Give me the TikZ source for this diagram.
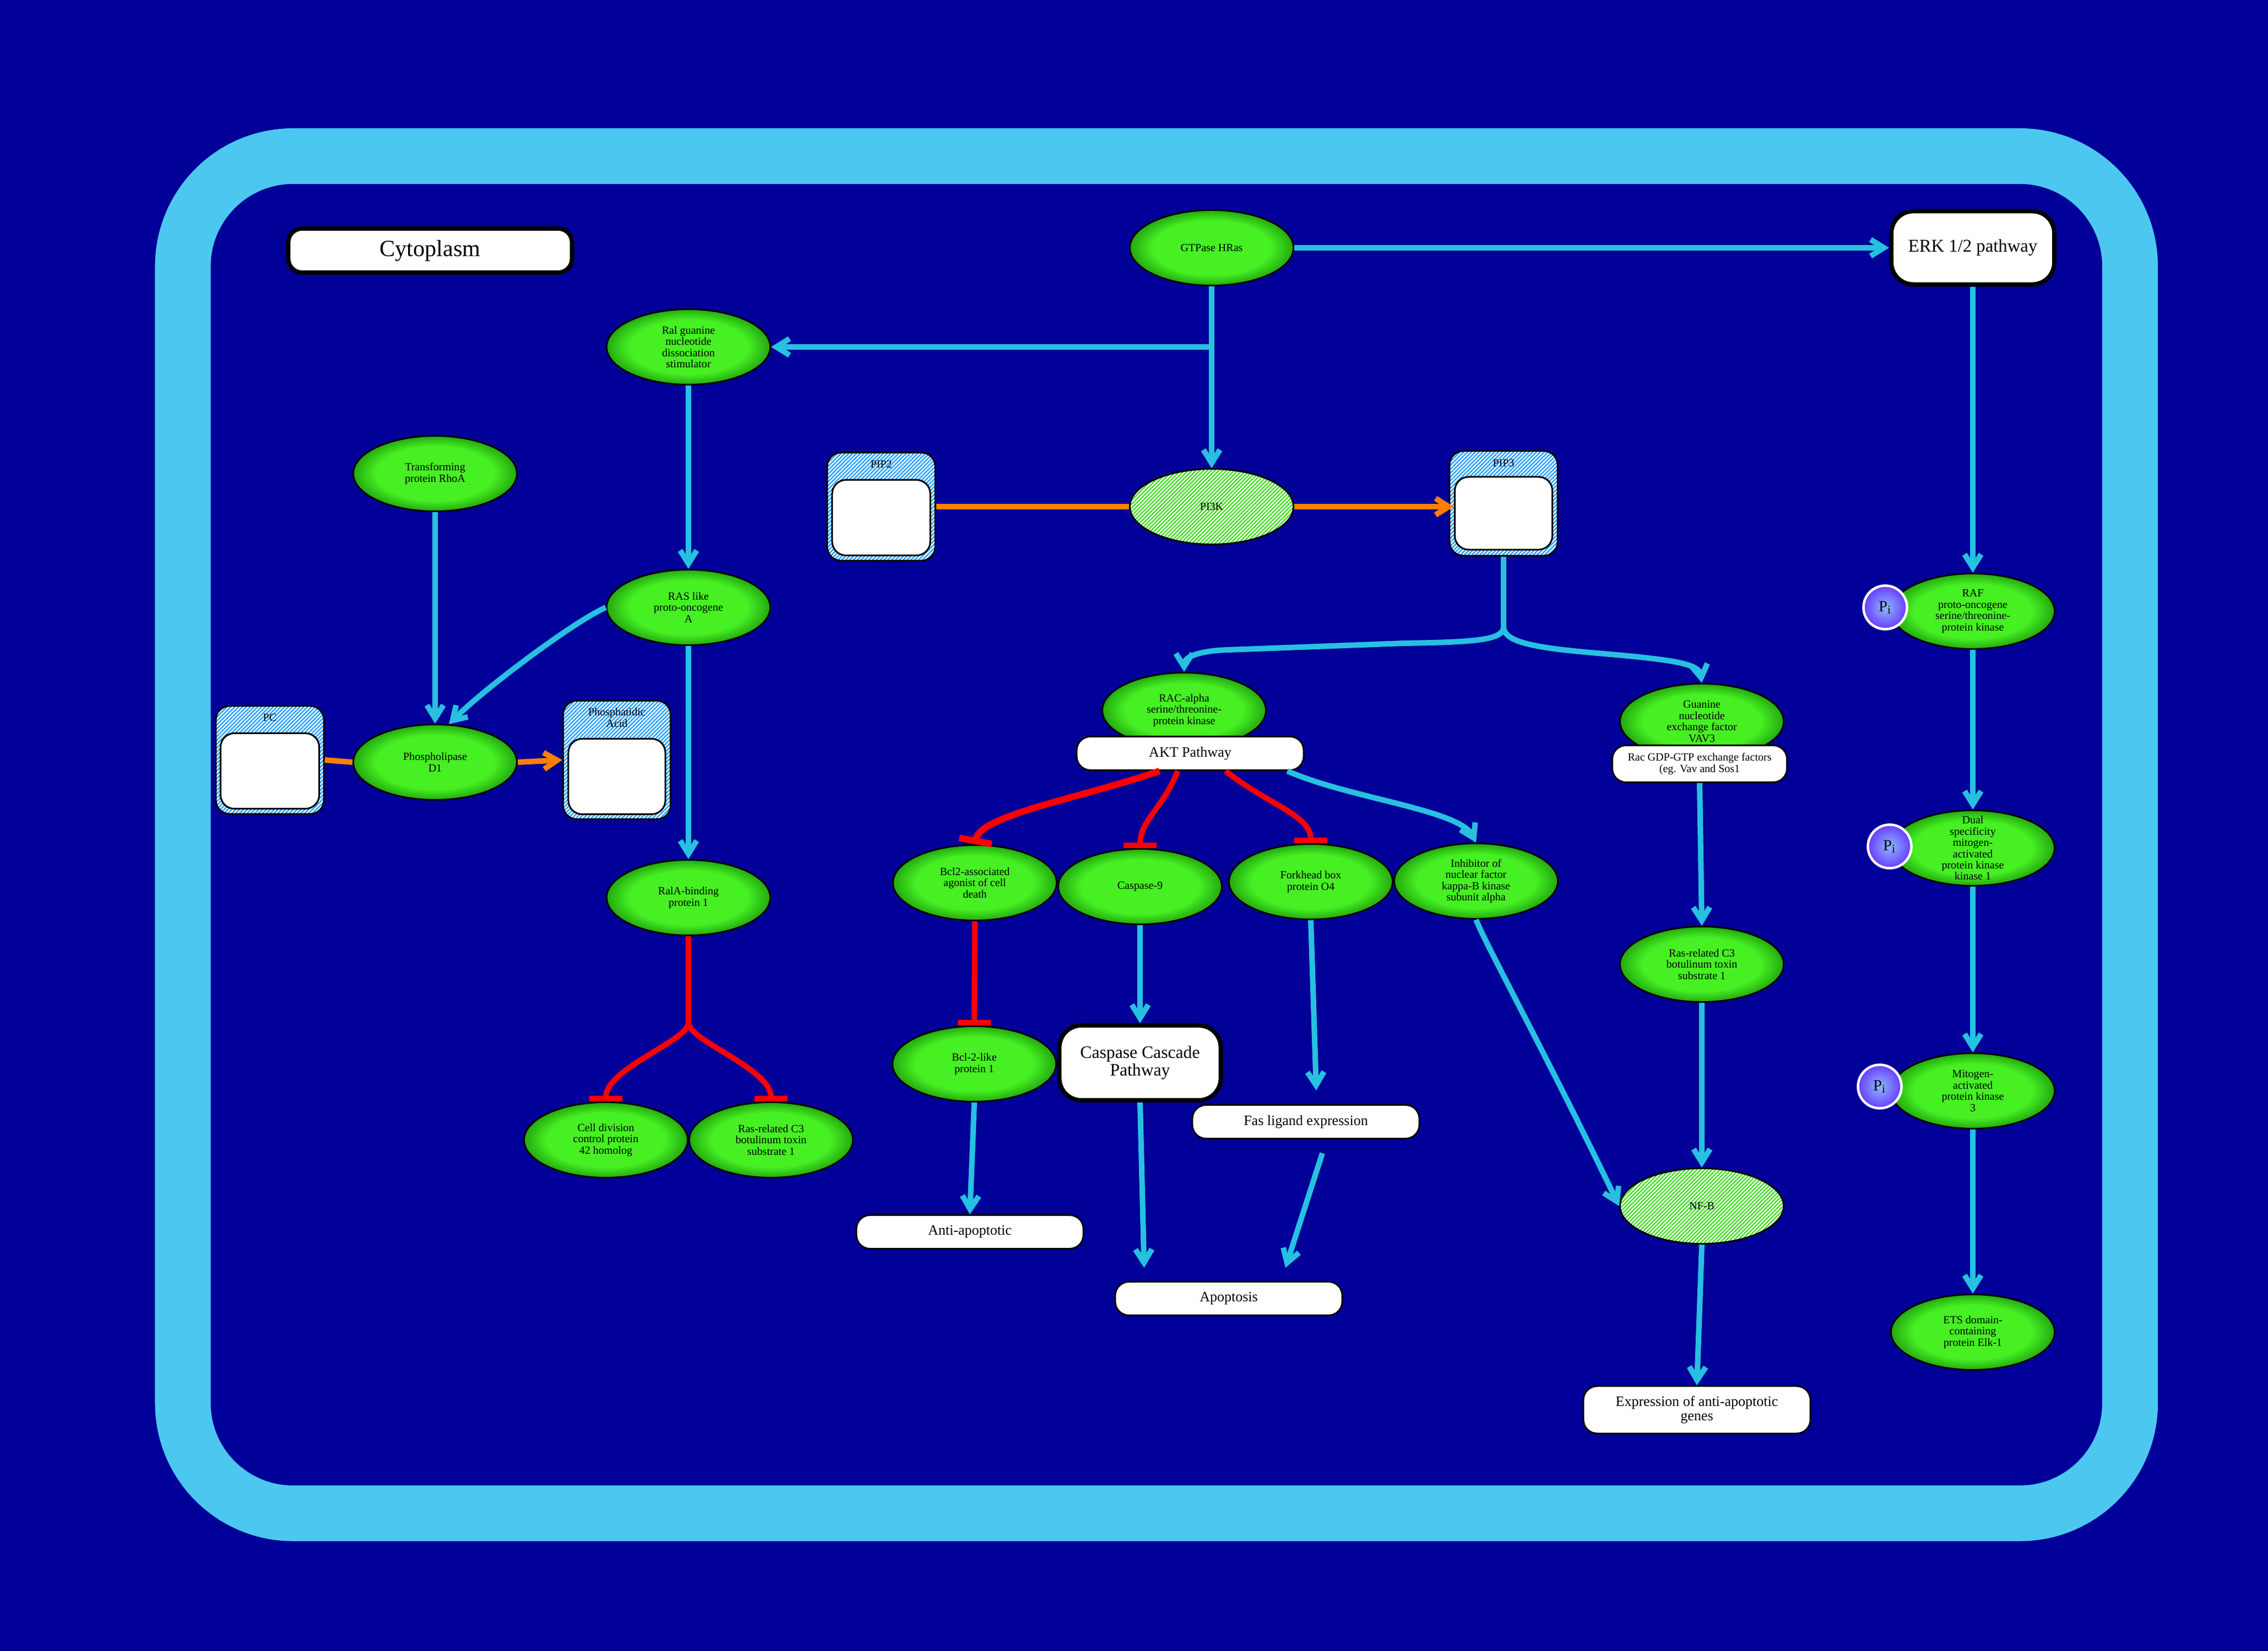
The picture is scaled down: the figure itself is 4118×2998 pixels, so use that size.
\documentclass[tikz,border=0pt]{standalone}
\usepackage{fontspec}
\setmainfont{Liberation Serif}
\usetikzlibrary{shapes.geometric,arrows.meta,patterns.meta,calc}

\definecolor{bgnavy}{RGB}{0,0,153}
\definecolor{framec}{RGB}{76,200,240}
\definecolor{cyanl}{RGB}{40,192,224}
\definecolor{orangel}{RGB}{255,128,0}
\definecolor{gin}{RGB}{70,240,35}
\definecolor{gout}{RGB}{36,168,16}
\definecolor{piin}{RGB}{140,185,255}
\definecolor{piout}{RGB}{105,60,255}
\definecolor{hatchg}{RGB}{70,220,40}
\definecolor{hatchb}{RGB}{40,160,255}

\pgfdeclareradialshading{greenball}{\pgfpoint{0bp}{0bp}}{color(0bp)=(gin); color(18bp)=(gin); color(25bp)=(gout); color(50bp)=(gout)}
\pgfdeclareradialshading{piball}{\pgfpoint{0bp}{0bp}}{color(0bp)=(piin); color(25bp)=(piout); color(50bp)=(piout)}

\newcommand{\protnode}[3]{\node[gnode] (#1) at (#2) {}; \node[gtext] at (#1.center) {#3};}
\newcommand{\hatchnode}[3]{\node[hnode] (#1) at (#2) {}; \node[gtext] at (#1.center) {#3};}

\begin{document}
\begin{tikzpicture}[x=0.01cm,y=-0.01cm,
  gnode/.style={ellipse, draw=black, line width=0.03cm, shading=greenball, minimum width=2.97cm, minimum height=1.37cm, inner sep=0pt},
  hnode/.style={ellipse, draw=black, line width=0.03cm, preaction={fill=white}, pattern={Lines[angle=45,distance=1.4pt,line width=0.7pt]}, pattern color=hatchg, minimum width=2.97cm, minimum height=1.37cm, inner sep=0pt},
  gtext/.style={align=center, font=\fontsize{5.7}{5.8}\selectfont, inner sep=0pt},
  pibox/.style={circle, draw=white, line width=0.045cm, shading=piball, minimum size=0.79cm, inner sep=0pt, font=\fontsize{8}{8}\selectfont},
  lbl/.style={rectangle, rounded corners=0.25cm, draw=black, fill=white, line width=0.03cm, align=center, font=\fontsize{7.4}{7.6}\selectfont, minimum width=4.12cm, minimum height=0.61cm, inner sep=0pt},
  bigbox/.style={rectangle, rounded corners=0.4cm, draw=black, fill=white, line width=0.08cm, align=center, inner sep=0pt},
  molout/.style={rectangle, rounded corners=0.25cm, draw=black, line width=0.03cm, preaction={fill=white}, pattern={Lines[angle=45,distance=1.4pt,line width=0.7pt]}, pattern color=hatchb, inner sep=0pt},
  molin/.style={rectangle, rounded corners=0.25cm, draw=black, fill=white, line width=0.03cm, inner sep=0pt},
  moltext/.style={align=center, font=\fontsize{5.7}{5.8}\selectfont, inner sep=0pt},
  act/.style={draw=cyanl, line width=0.1cm, -{Straight Barb[length=0.24cm,width=0.3cm]}},
  actline/.style={draw=cyanl, line width=0.1cm},
  conv/.style={draw=orangel, line width=0.1cm, -{Straight Barb[length=0.24cm,width=0.3cm]}},
  convline/.style={draw=orangel, line width=0.1cm},
  inh/.style={draw=red, line width=0.1cm, -{Bar[width=0.6cm]}}
]
% background and cell frame
\useasboundingbox (0,0) rectangle (4118,2998);
\fill[bgnavy] (0,0) rectangle (4118,2998);
\draw[framec, line width=1.01cm, rounded corners=2cm] (332,283.5) rectangle (3867.5,2748);

% title boxes
\node[bigbox, rounded corners=0.25cm, minimum width=5.15cm, minimum height=0.8cm, font=\fontsize{12}{12}\selectfont] (cyto) at (781,455) {Cytoplasm};
\node[bigbox, minimum width=2.96cm, minimum height=1.33cm, font=\fontsize{9.3}{9.3}\selectfont] (erk) at (3582,450) {ERK 1/2 pathway};

% proteins
\protnode{hras}{2200,450}{GTPase HRas}
\protnode{ralgds}{1250,630}{Ral guanine\\nucleotide\\dissociation\\stimulator}
\protnode{rhoa}{790,860}{Transforming\\protein RhoA}
\protnode{raslike}{1250,1103}{RAS like\\proto-oncogene\\A}
\protnode{pld1}{790,1384}{Phospholipase\\D1}
\protnode{rala}{1250,1630}{RalA-binding\\protein 1}
\protnode{cdc42}{1100,2070}{Cell division\\control protein\\42 homolog}
\protnode{rac1a}{1400,2070}{Ras-related C3\\botulinum toxin\\substrate 1}
\hatchnode{pi3k}{2200,920}{PI3K}
\protnode{racalpha}{2150,1290}{RAC-alpha\\serine/threonine-\\protein kinase}
\protnode{bad}{1770,1603}{Bcl2-associated\\agonist of cell\\death}
\protnode{casp9}{2070,1610}{Caspase-9}
\protnode{foxo4}{2380,1601}{Forkhead box\\protein O4}
\protnode{ikk}{2680,1600}{Inhibitor of\\nuclear factor\\kappa-B kinase\\subunit alpha}
\protnode{bcl2l}{1769,1932}{Bcl-2-like\\protein 1}
\protnode{vav3}{3090,1310}{Guanine\\nucleotide\\exchange factor\\VAV3}
\protnode{rac1b}{3090,1751}{Ras-related C3\\botulinum toxin\\substrate 1}
\hatchnode{nfkb}{3090,2190}{NF-B}
\protnode{raf}{3582,1110}{RAF\\proto-oncogene\\serine/threonine-\\protein kinase}
\protnode{mek}{3582,1540}{Dual\\specificity\\mitogen-\\activated\\protein kinase\\kinase 1}
\protnode{mapk3}{3582,1981}{Mitogen-\\activated\\protein kinase\\3}
\protnode{elk1}{3582,2419}{ETS domain-\\containing\\protein Elk-1}

% phosphate marks
\node[pibox] (pi1) at (3423,1103) {P\textsubscript{i}};
\node[pibox] (pi2) at (3431,1537) {P\textsubscript{i}};
\node[pibox] (pi3) at (3413,1973) {P\textsubscript{i}};

% label boxes
\node[lbl] (akt) at (2161,1368) {AKT Pathway};
\node[lbl, minimum width=3.17cm, minimum height=0.67cm, font=\fontsize{5.7}{5.9}\selectfont] (racgdp) at (3086,1387) {Rac GDP-GTP exchange factors\\(eg. Vav and Sos1};
\node[bigbox, minimum width=2.93cm, minimum height=1.36cm, font=\fontsize{9}{9.2}\selectfont] (cascade) at (2070,1930) {Caspase Cascade\\Pathway};
\node[lbl] (fas) at (2371,2037) {Fas ligand expression};
\node[lbl] (anti) at (1761,2237) {Anti-apoptotic};
\node[lbl] (apop) at (2231,2358) {Apoptosis};
\node[lbl, minimum height=0.86cm] (expr) at (3081,2560) {Expression of anti-apoptotic\\genes};

% small molecules
\node[molout, minimum width=1.96cm, minimum height=1.96cm] (pip2) at (1600,920) {};
\node[molin, minimum width=1.78cm, minimum height=1.37cm] (pip2in) at (1600,940) {};
\node[moltext] (pip2lbl) at (1600,843) {PIP2};
\node[molout, minimum width=1.96cm, minimum height=1.90cm] (pip3) at (2730,914) {};
\node[molin, minimum width=1.77cm, minimum height=1.32cm] (pip3in) at (2730,932) {};
\node[moltext] (pip3lbl) at (2730,841) {PIP3};
\node[molout, minimum width=1.96cm, minimum height=1.96cm] (pc) at (490,1380) {};
\node[molin, minimum width=1.79cm, minimum height=1.37cm] (pcin) at (490,1400) {};
\node[moltext] (pclbl) at (490,1303) {PC};
\node[molout, minimum width=1.95cm, minimum height=2.15cm] (pa) at (1120,1380) {};
\node[molin, minimum width=1.76cm, minimum height=1.37cm] (pain) at (1120,1410) {};
\node[moltext] (palbl) at (1120,1303) {Phosphatidic\\Acid};

% junctions
\coordinate (j1) at (2200,630);
\coordinate (j2) at (1250,1857);
\coordinate (j3) at (2730,1140);

% connectors: HRas
\draw[act] (hras.south) -- (pi3k.north);
\draw[act] (j1) -- (ralgds.east);
\draw[act] (hras.east) -- (erk.west);
% lipid conversions
\draw[convline] (pip2.east) -- (pi3k.west);
\draw[conv] (pi3k.east) -- (pip3in.west |- pi3k.east);
\draw[convline] (pc.east) -- (pld1.west);
\draw[conv] (pld1.east) -- (pa.west);
% Ral branch
\draw[act] (ralgds.south) -- (raslike.north);
\draw[act] (raslike.south) -- (rala.north);
\draw[act] (rhoa.south) -- (pld1.north);
\draw[act] (raslike.west) .. controls (1040,1130) and (880,1250) .. (pld1.70);
\draw[draw=red, line width=0.1cm] (rala.south) -- (j2);
\draw[inh] (j2) .. controls (1250,1890) and (1100,1940) .. (cdc42.north);
\draw[inh] (j2) .. controls (1250,1890) and (1400,1940) .. (rac1a.north);
% PIP3 branches
\draw[actline] (pip3.south) -- (j3);
\draw[act] (j3) .. controls (2727,1162) and (2680,1166) .. (2550,1168) -- (2230,1180) .. controls (2170,1182) and (2150,1195) .. (racalpha.north);
\draw[act] (j3) .. controls (2733,1165) and (2780,1176) .. (2900,1186) .. controls (3040,1198) and (3085,1205) .. (vav3.north);
% AKT targets
\draw[inh, line width=0.12cm] ($(akt.south west)+(152,0)$) .. controls (1960,1450) and (1780,1480) .. (bad.north);
\draw[inh] ($(akt.south west)+(185,0)$) .. controls (2110,1470) and (2070,1490) .. (casp9.north);
\draw[inh] ($(akt.south west)+(272,0)$) .. controls (2300,1460) and (2380,1480) .. (foxo4.north);
\draw[act] ($(akt.south west)+(384,0)$) .. controls (2450,1450) and (2650,1470) .. (ikk.north);
\draw[inh] (bad.south) -- (bcl2l.north);
\draw[act] (casp9.south) -- (cascade.north);
\draw[act] (foxo4.south) -- ($(fas.north)+(19,-25)$);
\draw[act] (bcl2l.south) -- (anti.north);
\draw[act] (cascade.south) -- ($(apop.north west)+(54,-24)$);
\draw[act] ($(fas.south)+(30,25)$) -- ($(apop.north)+(103,-24)$);
\draw[act] (ikk.south) .. controls (2700,1720) and (2800,1900) .. (nfkb.west);
% VAV3 branch
\draw[act] (racgdp.south) -- (rac1b.north);
\draw[act] (rac1b.south) -- (nfkb.north);
\draw[act] (nfkb.south) -- (expr.north);
% ERK cascade
\draw[act] (erk.south) -- (raf.north);
\draw[act] (raf.south) -- (mek.north);
\draw[act] (mek.south) -- (mapk3.north);
\draw[act] (mapk3.south) -- (elk1.north);
\end{tikzpicture}
\end{document}
